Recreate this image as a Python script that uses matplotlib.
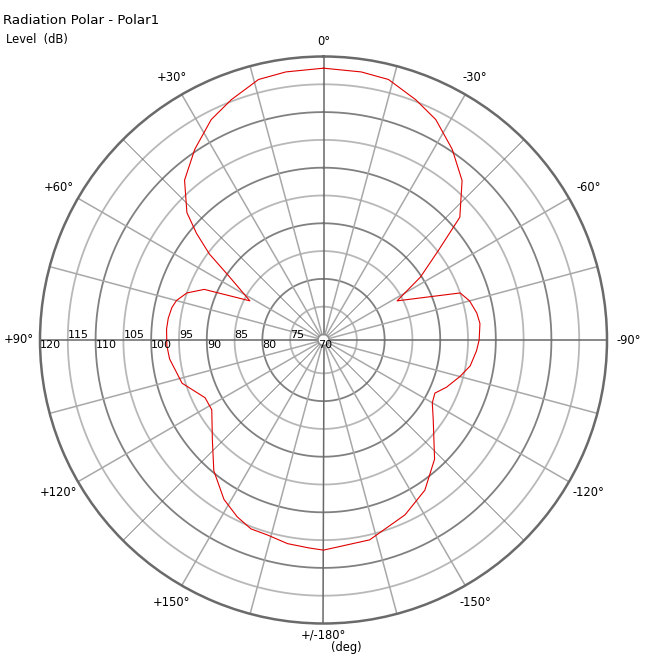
import numpy as np
import matplotlib.pyplot as plt

plt.rcParams['font.family'] = ['DejaVu Sans']

# measured response: angle in degrees (+ is left / counter-clockwise from 0), level in dB
angles = [0, 8, 14, 21, 27, 34, 41, 47, 50, 53, 56, 62, 67, 71, 75, 78, 82, 86, 92, 97,
          107, 116, 122, 132, 140, 148, 154, 159, 164, 170, 176, 180,
          193, 205, 214, 223, 234, 240, 244.5, 249, 255, 260, 266, 270, 276, 280, 285, 289,
          298, 303, 308, 312, 319, 326, 333, 339, 346, 352, 360]
levels = [117.9, 117.7, 117.3, 115.3, 113.5, 110.4, 107.1, 102.6, 98.8, 94.7, 89.5, 84.0, 92.3, 95.0, 96.4, 96.9, 97.2, 97.3, 97.2, 96.9,
          95.6, 92.7, 92.7, 95.9, 99.7, 102.8, 104.4, 105.4, 105.5, 106.2, 106.5, 106.8,
          105.9, 103.7, 101.6, 98.3, 93.4, 91.6, 91.2, 92.7, 94.4, 95.8, 96.6, 97.0, 97.3, 97.0, 96.2, 95.0,
          84.0, 89.8, 95.3, 102.0, 107.0, 110.4, 113.5, 115.3, 117.3, 117.7, 117.9]

ring_levels = [75, 80, 85, 90, 95, 100, 105, 110, 115]
label_levels = [70, 75, 80, 85, 90, 95, 100, 105, 110, 115, 120]
spoke_angles = np.arange(0, 360, 15)
angle_ticks = [0, 30, 60, 90, 120, 150, 180, 210, 240, 270, 300, 330]
angle_labels = ['0°', '+30°', '+60°', '+90°', '+120°', '+150°', '+/-180°',
                '-150°', '-120°', '-90°', '-60°', '-30°']

r_min, r_max = 70, 120
R_px = 283.5

fig = plt.figure(figsize=(6.5, 6.59), dpi=100)
ax = fig.add_axes([40 / 650, 35.5 / 659, 567 / 650, 567 / 659], projection='polar')
ax.set_theta_zero_location('N')
ax.set_theta_direction(1)
ax.set_ylim(r_min, r_max)
ax.set_rorigin(69)
ax.grid(False)
ax.set_xticks([])
ax.set_yticks([])
ax.spines['polar'].set_color('#6a6a6a')
ax.spines['polar'].set_linewidth(1.8)
ax.spines['inner'].set_color('#909090')
ax.spines['inner'].set_linewidth(1.2)

full = np.linspace(0, 2 * np.pi, 721)
for lv in ring_levels:
    if lv % 10 == 0:
        ax.plot(full, np.full_like(full, lv), color='#808080', lw=1.3, zorder=1)
    else:
        ax.plot(full, np.full_like(full, lv), color='#b8b8b8', lw=1.3, zorder=1)

for a in spoke_angles:
    t = np.deg2rad(a)
    if a % 90 == 0:
        ax.plot([t, t], [r_min, r_max], color='#686868', lw=1.1, zorder=2)
    elif a % 45 == 0:
        ax.plot([t, t], [r_min, r_max], color='#606060', lw=0.5, zorder=2)
    else:
        ax.plot([t, t], [r_min, r_max], color='#a8a8a8', lw=1.1, zorder=2)

ax.plot(np.deg2rad(angles), levels, color='#e00000', lw=0.8, zorder=3)

# level labels along the left horizontal axis
for lv in label_levels:
    if lv % 10 == 0:
        ax.text(np.pi / 2, lv, str(lv), ha='left', va='top', fontsize=8,
                clip_on=False)
    else:
        ax.text(np.pi / 2, lv, str(lv), ha='left', va='bottom', fontsize=8,
                clip_on=False)

for a, s in zip(angle_ticks, angle_labels):
    t = np.deg2rad(a)
    p = 293 + 12 * abs(np.sin(t)) + 5 * abs(np.cos(t))
    if a == 180:
        p = 295
    r_lab = 69 + p / R_px * 51
    ax.text(t, r_lab, s, ha='center', va='center', fontsize=8.3, clip_on=False)

fig.text(346 / 650, 1 - 648 / 659, '(deg)', ha='center', va='center', fontsize=8.3)
fig.text(3 / 650, 1 - 21 / 659, 'Radiation Polar - Polar1', ha='left', va='center', fontsize=9.6)
fig.text(6 / 650, 1 - 39 / 659, 'Level  (dB)', ha='left', va='center', fontsize=8.3)

fig.savefig('out.png', dpi=100)
